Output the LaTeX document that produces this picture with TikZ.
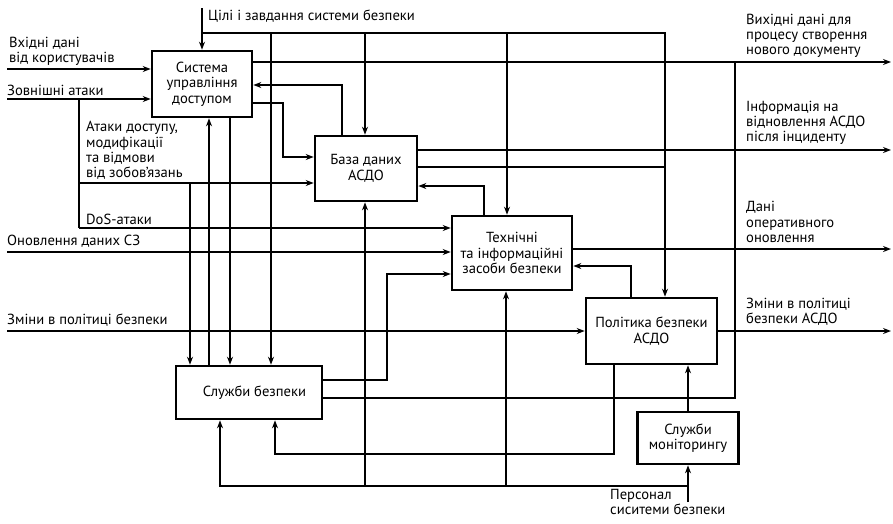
\documentclass[tikz,border=0pt]{standalone}
\usepackage{fontspec}
\setmainfont{PT Sans}
\usetikzlibrary{positioning,arrows.meta}

\begin{document}
\begin{tikzpicture}[x=1pt,y=-1pt,
  every node/.style={font=\fontsize{14.6}{15.4}\selectfont},
  blok/.style={draw,line width=2.6pt,align=center,inner sep=0pt},
  flow/.style={line width=1.3pt},
  arr/.style={flow,-{Stealth[length=8pt,width=6pt]}},
  lbl/.style={align=left,inner sep=0pt}]
\useasboundingbox (0,0) rectangle (893,523);

% блоки
\node[blok,minimum width=100pt,minimum height=66pt] (sud) at (202,84) {Система\\управління\\доступом};
\node[blok,minimum width=102pt,minimum height=65pt] (bd) at (366,168.5) {База даних\\АСДО};
\node[blok,minimum width=120pt,minimum height=74pt] (tiz) at (512,253) {Технічні\\та інформаційні\\засоби безпеки};
\node[blok,minimum width=131pt,minimum height=66pt] (pb) at (651.5,331) {Політика безпеки\\АСДО};
\node[blok,minimum width=146pt,minimum height=53pt] (sb) at (249,392.5) {\hspace*{11pt}Служби безпеки};
\node[blok,minimum width=101pt,minimum height=52pt] (sm) at (688,438) {Служби\\моніторингу};

% управління
\coordinate (ctl) at (202,8);
\coordinate (cbus) at (202,33);
\coordinate (cend) at (665,33);
\draw[arr] (ctl) -- (sud.north -| ctl);
\draw[arr] (cbus) -- (cend) -- (pb.north -| cend);
\foreach \cx/\nd in {271/sb,365/bd,507/tiz}
  \draw[arr] (\cx,33) -- (\nd.north -| \cx,0);
\node[lbl,anchor=west] (tctl) at (208,16) {Цілі і завдання системи безпеки};

% входи
\coordinate (in1) at (7,69);
\coordinate (in2) at (7,99);
\coordinate (in3) at (7,252);
\coordinate (in4) at (7,331);
\draw[arr] (in1) -- (sud.west |- in1);
\draw[arr] (in2) -- (sud.west |- in2);
\draw[flow] (79,99) -- (79,228);
\draw[arr] (79,228) -- (tiz.west |- 0,228);
\draw[arr] (79,183) -- (bd.west |- 0,183);
\draw[arr] (190,183) -- (sb.north -| 190,0);
\draw[arr] (in3) -- (tiz.west |- in3);
\draw[arr] (in4) -- (pb.west |- in4);
\node[lbl,anchor=south west] (tin1) at (9,66) {Вхідні дані\\від користувачів};
\node[lbl,anchor=south west] (tin2) at (7,96) {Зовнішні атаки};
\node[lbl,anchor=south west] (tatk) at (86,180) {Атаки доступу,\\модифікації\\та відмови\\від зобов’язань};
\node[lbl,anchor=south west] (tdos) at (86,225) {DoS-атаки};
\node[lbl,anchor=south west] (tin3) at (7,248) {Оновлення даних СЗ};
\node[lbl,anchor=south west] (tin4) at (7,327) {Зміни в політиці безпеки};

% виходи
\coordinate (out1) at (891,62);
\coordinate (out2) at (891,150);
\coordinate (out3) at (891,249);
\coordinate (out4) at (891,331);
\draw[arr] (sud.east |- out1) -- (out1);
\draw[arr] (bd.east |- out2) -- (out2);
\draw[arr] (tiz.east |- out3) -- (out3);
\draw[arr] (pb.east |- out4) -- (out4);
\node[lbl,anchor=south west] (tout1) at (746,58) {Вихідні дані для\\процесу створення\\нового документу};
\node[lbl,anchor=south west] (tout2) at (746,145) {Інформація на\\відновлення АСДО\\після інциденту};
\node[lbl,anchor=south west] (tout3) at (746,243) {Дані\\оперативного\\оновлення};
\node[lbl,anchor=south west] (tout4) at (746,326) {Зміни в політиці\\безпеки АСДО};

% зворотні зв'язки
\draw[arr] (bd.north -| 342,0) |- (sud.east |- 0,85);
\draw[arr] (sud.east |- 0,103) -| (283,157) -- (bd.west |- 0,157);
\draw[flow] (bd.east |- 0,167) -- (cend |- 0,167);
\draw[arr] (tiz.north -| 484,0) |- (bd.east |- 0,186);
\draw[arr] (pb.north -| 631,0) |- (tiz.east |- 0,266);
\draw[arr] (sud.south -| 230,0) -- (sb.north -| 230,0);
\draw[arr] (sb.north -| 209,0) -- (sud.south -| 209,0);
\draw[arr] (sb.east |- 0,380) -| (387,274) -- (tiz.west |- 0,274);
\draw[flow] (sb.east |- 0,398) -| (out1 -| 735,0);
\draw[arr] (pb.south -| 614,0) |- (275,454) -- (sb.south -| 275,0);
\draw[arr] (sm.north) -- (pb.south -| sm.north);

% персонал
\coordinate (pers) at (688,502);
\draw[arr] (pers) -- (sm.south);
\draw[arr] (pers |- 0,486) -| (sb.south -| 220,0);
\foreach \px/\nd in {365/bd,506/tiz}
  \draw[arr] (\px,486) -- (\nd.south -| \px,0);
\node[lbl,anchor=north west] (tpers) at (610,489) {Персонал\\сиситеми безпеки};
\end{tikzpicture}
\end{document}
